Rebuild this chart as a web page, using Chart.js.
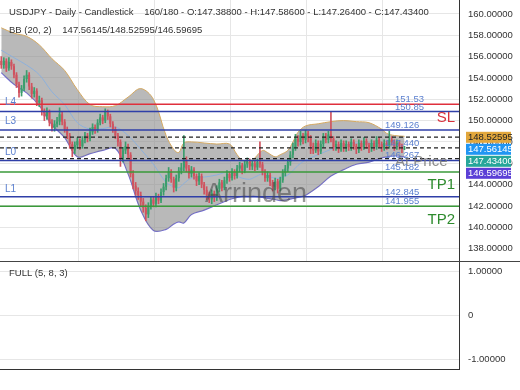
<!DOCTYPE html>
<html>
<head>
<meta charset="utf-8">
<script src="https://cdn.jsdelivr.net/npm/chart.js@4.4.1/dist/chart.umd.min.js"></script>
<style>
    body { margin: 0; background: #fff; }
    #wrap { position: relative; width: 520px; height: 390px; overflow: hidden; }
    #mainBox { position: relative; width: 520px; height: 261px; }
    #subBox { position: relative; width: 520px; height: 128px; border-top: 1px solid #444; }
</style>
</head>
<body>
<div id="wrap">
    <div id="mainBox"><canvas id="mainChart"></canvas></div>
    <div id="subBox"><canvas id="subChart"></canvas></div>
</div>
<script>
// candles, bar index 0..159
const opens = [
    155.60,155.20,155.60,154.90,155.50,155.10,154.30,153.40,152.60,153.00,
    153.90,154.30,153.20,152.50,152.80,151.70,151.90,150.80,150.40,150.90,
    149.80,149.30,149.70,149.90,150.60,149.90,149.20,148.60,147.80,147.20,
    147.70,148.10,147.60,148.20,148.60,148.30,148.90,149.40,149.10,149.80,
    150.30,150.00,150.80,150.40,149.70,149.20,148.60,148.00,146.40,147.20,
    147.60,146.80,145.00,143.90,143.40,143.00,142.40,141.80,141.20,142.00,
    142.60,142.20,142.90,142.50,143.30,143.80,144.60,145.20,144.50,143.70,
    144.60,145.30,145.60,146.30,145.50,145.00,145.40,144.80,144.30,144.80,
    144.00,143.50,143.00,142.60,143.20,142.80,143.60,144.20,143.70,144.40,
    145.00,144.60,145.20,144.80,145.50,145.80,145.30,145.90,146.20,145.70,
    146.00,145.60,146.10,145.90,145.20,144.60,144.90,144.20,143.80,144.30,
    143.60,144.40,145.10,145.50,146.10,146.80,147.50,148.30,148.00,148.60,
    148.20,148.80,148.40,147.60,147.20,147.90,147.10,147.80,148.50,148.20,
    148.70,148.30,147.50,147.80,147.30,147.90,147.40,147.80,147.50,148.00,
    147.60,147.30,147.90,147.50,148.10,147.70,147.40,147.90,147.50,148.20,
    147.80,147.40,147.90,147.60,148.20,148.00,147.50,147.90,147.60,147.388
];
const highs = [
    156.0,155.9,155.8,155.9,155.7,155.3,154.5,153.6,153.3,154.2,
    154.7,154.5,153.5,153.1,153.0,152.3,152.1,151.1,151.2,151.0,
    150.1,150.0,150.3,151.2,150.8,150.1,149.4,148.8,148.0,148.0,
    148.4,148.3,148.5,148.9,148.8,149.3,149.7,149.6,150.1,150.6,
    150.5,151.1,151.0,150.6,149.9,149.4,148.8,148.2,147.5,148.0,
    147.8,147.0,145.3,144.2,143.7,143.3,142.7,142.1,142.3,142.9,
    142.9,143.2,143.1,143.6,144.1,144.9,145.6,145.4,144.7,144.9,
    145.6,146.0,148.6,146.6,145.8,145.7,145.6,145.0,145.1,145.0,
    144.2,143.8,143.3,143.5,143.4,143.9,144.5,144.4,144.7,145.3,
    145.2,145.5,145.4,145.8,146.1,146.0,146.2,146.5,146.4,146.3,
    146.2,146.4,148.0,146.1,145.4,145.2,145.1,144.4,144.6,144.5,
    144.7,145.4,145.8,146.4,147.1,147.9,148.7,148.6,149.0,148.8,
    149.1,149.0,148.6,147.9,148.2,148.1,148.1,148.8,148.8,149.0,
    150.8,148.5,148.1,148.0,148.2,148.1,148.1,148.0,148.3,148.2,
    147.8,148.2,148.1,148.4,148.3,147.9,148.2,148.1,148.5,148.4,
    148.0,148.2,148.1,149.0,148.5,148.2,148.2,148.1,147.8,147.586
];
const lows = [
    154.9,154.9,154.6,154.7,154.8,154.0,153.1,152.2,152.3,152.8,
    153.6,152.9,152.1,152.2,151.4,151.3,150.5,150.0,150.1,149.5,
    149.0,149.0,149.4,149.6,149.6,148.9,148.3,147.4,146.6,146.9,
    147.4,147.3,147.4,147.9,148.0,148.1,148.7,148.8,148.9,149.6,
    149.7,149.8,150.1,149.4,148.9,148.3,147.6,145.7,146.1,146.9,
    146.4,144.7,143.6,143.0,142.6,142.0,141.4,140.6,140.9,141.7,
    141.9,141.9,142.2,142.3,143.0,143.5,144.3,144.2,143.3,143.4,
    144.3,145.0,145.3,145.2,144.6,144.7,144.5,143.9,144.0,143.7,
    143.1,142.6,142.3,142.2,142.4,142.5,143.3,143.4,143.5,144.1,
    144.3,144.4,144.5,144.6,145.2,145.0,145.1,145.6,145.4,145.4,
    145.3,145.4,145.6,144.9,144.3,144.3,143.9,143.4,143.5,143.2,
    143.4,144.2,144.8,145.2,145.8,146.5,147.2,147.6,147.7,147.8,
    147.9,148.0,146.9,146.9,147.0,146.8,146.9,147.5,147.9,147.9,
    148.0,147.2,147.2,147.0,147.1,147.1,147.1,147.2,147.2,147.3,
    146.9,147.0,147.2,147.3,147.4,147.0,147.1,147.2,147.3,147.5,
    147.1,147.2,147.3,147.4,147.7,147.2,147.3,147.3,147.0,147.264
];
const closes = [
    155.20,155.60,154.90,155.50,155.10,154.30,153.40,152.60,153.00,153.90,
    154.30,153.20,152.50,152.80,151.70,151.90,150.80,150.40,150.90,149.80,
    149.30,149.70,149.90,150.60,149.90,149.20,148.60,147.80,147.20,147.70,
    148.10,147.60,148.20,148.60,148.30,148.90,149.40,149.10,149.80,150.30,
    150.00,150.80,150.40,149.70,149.20,148.60,148.00,146.40,147.20,147.60,
    146.80,145.00,143.90,143.40,143.00,142.40,141.80,141.20,142.00,142.60,
    142.20,142.90,142.50,143.30,143.80,144.60,145.20,144.50,143.70,144.60,
    145.30,145.60,146.30,145.50,145.00,145.40,144.80,144.30,144.80,144.00,
    143.50,143.00,142.60,143.20,142.80,143.60,144.20,143.70,144.40,145.00,
    144.60,145.20,144.80,145.50,145.80,145.30,145.90,146.20,145.70,146.00,
    145.60,146.10,145.90,145.20,144.60,144.90,144.20,143.80,144.30,143.60,
    144.40,145.10,145.50,146.10,146.80,147.50,148.30,148.00,148.60,148.20,
    148.80,148.40,147.60,147.20,147.90,147.10,147.80,148.50,148.20,148.70,
    148.30,147.50,147.80,147.30,147.90,147.40,147.80,147.50,148.00,147.60,
    147.30,147.90,147.50,148.10,147.70,147.40,147.90,147.50,148.20,147.80,
    147.40,147.90,147.60,148.20,148.00,147.50,147.90,147.60,147.30,147.434
];

// bollinger bands (20, 2), read at these bars
const bbIdx   = [0, 5, 10, 15, 20, 25, 30, 35, 40, 45, 50, 55, 60, 65, 68, 70, 72, 75, 80, 85, 90, 93, 95, 98, 100, 103, 105, 108, 110, 113, 115, 117, 120, 125, 130, 135, 140, 145, 150, 152, 155, 159];
const bbUpper = [158.7, 158.2, 157.9, 157.1, 155.8, 154.7, 152.9, 151.5, 151.3, 151.4, 152.2, 153.0, 152.0, 148.6, 147.3, 147.0, 147.9, 148.0, 147.9, 147.8, 147.8, 146.8, 146.3, 146.1, 146.5, 147.2, 147.0, 146.6, 146.8, 147.2, 148.0, 148.9, 149.5, 149.7, 149.9, 150.0, 149.9, 149.8, 149.2, 148.8, 148.6, 148.52595];
const bbMid   = [156.6, 155.9, 155.2, 154.3, 152.7, 151.5, 149.8, 149.2, 149.25, 149.4, 148.6, 147.3, 145.9, 144.2, 143.8, 143.7, 144.1, 144.6, 144.7, 144.9, 145.2, 144.8, 144.6, 144.5, 144.7, 145.0, 144.8, 144.6, 144.6, 144.9, 145.3, 145.8, 146.3, 146.8, 147.3, 147.7, 147.9, 147.9, 147.8, 147.7, 147.6, 147.56145];
const bbLower = [154.5, 153.4, 152.6, 151.4, 149.6, 148.4, 146.6, 146.9, 147.2, 147.4, 145.0, 141.6, 139.7, 139.8, 140.3, 140.5, 140.4, 141.2, 141.6, 142.1, 142.6, 142.8, 142.9, 142.9, 142.9, 142.8, 142.7, 142.6, 142.5, 142.6, 142.7, 142.8, 143.0, 143.8, 144.8, 145.4, 145.9, 146.1, 146.5, 146.6, 146.7, 146.59695];

// horizontal trade levels
const levelValues = [151.53, 150.85, 149.126, 148.44, 147.44, 146.44, 146.267, 145.182, 142.845, 141.955];
const levelLabels = ['151.53', '150.85', '149.126', '', '147.440', '', '146.267', '145.182', '142.845', '141.955'];
const levelKinds  = ['sl', 'pivot', 'pivot', 'dash', 'dash', 'dash', 'pivot', 'tp', 'pivot', 'tp'];

const zoneNames  = ['L4', 'L3', 'L0', 'L1'];
const zonePrices = [151.75, 149.96, 147.05, 143.58];
const tagNames   = ['SL', 'TP1', 'TP2', 'At Price'];
const tagPrices  = [150.25, 143.96, 140.68, 146.12];

const priceBoxes = [148.52595, 147.56145, 147.43400, 146.59695];
const gridBars = [30.5, 60.5, 90.5, 120.5, 150.5];
const subTicks = [-1, 0, 1];

const UP = '#3b9e6d';
const DOWN = '#d0535f';
const LABEL_BLUE = '#5a7fcf';
const kindStyle = {
    sl:    { color: '#e0303c', dash: [] },
    pivot: { color: '#2f3fa8', dash: [] },
    tp:    { color: '#3a9a3a', dash: [] },
    dash:  { color: '#222222', dash: [4, 3] }
};
const boxColors = [['#e2a73c', '#222'], ['#2196f3', '#fff'], ['#26a69a', '#fff'], ['#5b3fd6', '#fff']];

Chart.defaults.font.family = "'Liberation Sans', Arial, sans-serif";
Chart.defaults.font.size = 9.5;
Chart.defaults.animation = false;

document.addEventListener('DOMContentLoaded', function () {
    initMainChart();
    initSubChart();
});

function bbPoints(arr) {
    return arr.map((v, k) => ({ x: bbIdx[k], y: v }));
}

// right-hand price axis: fixed width and no extra padding at top/bottom
function fitRightAxis(s) {
    s.width = 61;
    s.paddingTop = 0;
    s.paddingBottom = 0;
}

function initMainChart() {
    const ctx = document.getElementById('mainChart').getContext('2d');
    const candleColors = closes.map((c, i) => c >= opens[i] ? UP : DOWN);

    const levelSets = levelValues.map((v, k) => ({
        type: 'line',
        data: [{ x: -0.5, y: v }, { x: 180.5, y: v }],
        borderColor: kindStyle[levelKinds[k]].color,
        borderDash: kindStyle[levelKinds[k]].dash,
        borderWidth: levelKinds[k] === 'dash' ? 1.2 : 1.5,
        pointRadius: 0,
        order: 0
    }));

    const datasets = [
        {
            type: 'line', label: 'upper', data: bbPoints(bbUpper),
            borderColor: '#d4a860', borderWidth: 1, pointRadius: 0, tension: 0.35,
            fill: '+1', backgroundColor: 'rgba(135,135,135,0.58)', order: 5
        },
        {
            type: 'line', label: 'lower', data: bbPoints(bbLower),
            borderColor: '#6f68d8', borderWidth: 1.2, pointRadius: 0, tension: 0.35,
            fill: false, order: 5
        },
        {
            type: 'line', label: 'mid', data: bbPoints(bbMid),
            borderColor: '#8cb0dc', borderWidth: 1, pointRadius: 0, tension: 0.35,
            fill: false, order: 4
        },
        {
            type: 'bar', label: 'wicks',
            data: closes.map((c, i) => ({ x: i, y: [lows[i], highs[i]] })),
            backgroundColor: candleColors, barThickness: 1, grouped: false, order: 2
        },
        {
            type: 'bar', label: 'bodies',
            data: closes.map((c, i) => ({ x: i, y: [opens[i], c] })),
            backgroundColor: candleColors, barPercentage: 0.8, categoryPercentage: 1,
            grouped: false, order: 1
        },
        ...levelSets
    ];

    const overlay = {
        id: 'overlay',
        afterDatasetsDraw(chart) {
            const { ctx, chartArea: area, scales: { y } } = chart;
            ctx.save();

            // watermark
            ctx.font = "27px 'Liberation Sans', Arial, sans-serif";
            ctx.fillStyle = 'rgba(70,70,70,0.55)';
            ctx.textBaseline = 'alphabetic';
            ctx.textAlign = 'left';
            ctx.fillText('Arrinden', area.left + 205, y.getPixelForValue(142.4));

            // tags at right side
            tagNames.forEach((t, k) => {
                ctx.font = "15px 'Liberation Sans', Arial, sans-serif";
                ctx.textBaseline = 'middle';
                const py = y.getPixelForValue(tagPrices[k]);
                if (t === 'At Price') {
                    ctx.fillStyle = 'rgba(120,120,120,0.85)';
                    ctx.textAlign = 'left';
                    ctx.fillText(t, area.right - 64, py);
                } else {
                    ctx.fillStyle = t === 'SL' ? '#d8303c' : '#2e8b2e';
                    ctx.textAlign = 'right';
                    ctx.fillText(t, area.right - 4, py);
                }
            });

            // level numbers
            ctx.font = "9.5px 'Liberation Sans', Arial, sans-serif";
            ctx.fillStyle = LABEL_BLUE;
            ctx.textAlign = 'left';
            ctx.textBaseline = 'alphabetic';
            levelLabels.forEach((t, k) => {
                if (!t) return;
                const px = k < 2 ? area.right - 64 : area.right - 74;
                ctx.fillText(t, px, y.getPixelForValue(levelValues[k]) - 2);
            });

            // zone names on the left
            ctx.font = "10px 'Liberation Sans', Arial, sans-serif";
            ctx.textBaseline = 'middle';
            zoneNames.forEach((t, k) => {
                ctx.fillText(t, area.left + 5, y.getPixelForValue(zonePrices[k]));
            });
            ctx.restore();
        },
        afterDraw(chart) {
            const { ctx, chartArea: area, scales: { y } } = chart;
            ctx.save();
            ctx.font = "9.5px 'Liberation Sans', Arial, sans-serif";
            ctx.fillStyle = '#333';
            ctx.textAlign = 'left';
            ctx.textBaseline = 'middle';
            const last = closes.length - 1;
            ctx.fillText('USDJPY - Daily - Candlestick    160/180 - O:' + opens[last].toFixed(5) +
                ' - H:' + highs[last].toFixed(5) + ' - L:' + lows[last].toFixed(5) +
                ' - C:' + closes[last].toFixed(5), 9, 12);
            ctx.fillText('BB (20, 2)    ' + bbMid[bbMid.length - 1].toFixed(5) + '/' +
                bbUpper[bbUpper.length - 1].toFixed(5) + '/' + bbLower[bbLower.length - 1].toFixed(5), 9, 30);

            // price boxes on the axis, pushed apart so they don't overlap
            let prev = -100;
            priceBoxes.forEach((v, k) => {
                let cy = Math.max(y.getPixelForValue(v) + 1, prev + 12);
                prev = cy;
                ctx.fillStyle = boxColors[k][0];
                ctx.fillRect(area.right + 7, cy - 5.5, 45, 11);
                ctx.fillStyle = boxColors[k][1];
                ctx.fillText(v.toFixed(5), area.right + 9, cy);
            });
            ctx.restore();
        }
    };

    window.mainChart = new Chart(ctx, {
        type: 'bar',
        data: { datasets },
        options: {
            responsive: true,
            maintainAspectRatio: false,
            layout: { padding: 0, autoPadding: false },
            plugins: { legend: { display: false }, tooltip: { enabled: false } },
            scales: {
                x: {
                    type: 'linear', min: -0.5, max: 180.5, offset: false,
                    ticks: { display: false },
                    grid: { color: '#e6e6e6', drawTicks: false, offset: false },
                    border: { display: false },
                    afterBuildTicks: s => { s.ticks = gridBars.map(v => ({ value: v })); },
                    afterFit: s => { s.height = 0; }
                },
                y: {
                    position: 'right', min: 136.83, max: 161.31, offset: false,
                    ticks: {
                        stepSize: 2, includeBounds: false, padding: 9, color: '#333',
                        callback: v => v.toFixed(5)
                    },
                    grid: { color: '#e6e6e6', drawTicks: false },
                    border: { display: true, color: '#333' },
                    afterFit: fitRightAxis
                }
            }
        },
        plugins: [overlay]
    });
}

function initSubChart() {
    const ctx = document.getElementById('subChart').getContext('2d');

    const caption = {
        id: 'caption',
        afterDraw(chart) {
            const c = chart.ctx;
            c.save();
            c.font = "9.5px 'Liberation Sans', Arial, sans-serif";
            c.fillStyle = '#333';
            c.textBaseline = 'middle';
            c.fillText('FULL (5, 8, 3)', 9, 11);
            c.restore();
        }
    };

    window.subChart = new Chart(ctx, {
        type: 'line',
        data: { datasets: [{ data: [], pointRadius: 0 }] },
        options: {
            responsive: true,
            maintainAspectRatio: false,
            layout: { padding: { bottom: 21 }, autoPadding: false },
            plugins: { legend: { display: false }, tooltip: { enabled: false } },
            scales: {
                x: {
                    type: 'linear', min: -0.5, max: 180.5, offset: false,
                    ticks: { display: false },
                    grid: { display: false },
                    border: { display: true, color: '#333' },
                    afterFit: s => { s.height = 0; }
                },
                y: {
                    position: 'right', min: -1.229, max: 1.222, offset: false,
                    ticks: {
                        padding: 9, color: '#333', includeBounds: false,
                        callback: v => v === 0 ? '0' : v.toFixed(5)
                    },
                    afterBuildTicks: s => { s.ticks = subTicks.map(v => ({ value: v })); },
                    grid: { color: '#e6e6e6', drawTicks: false },
                    border: { display: true, color: '#333' },
                    afterFit: fitRightAxis
                }
            }
        },
        plugins: [caption]
    });
}
</script>
</body>
</html>
